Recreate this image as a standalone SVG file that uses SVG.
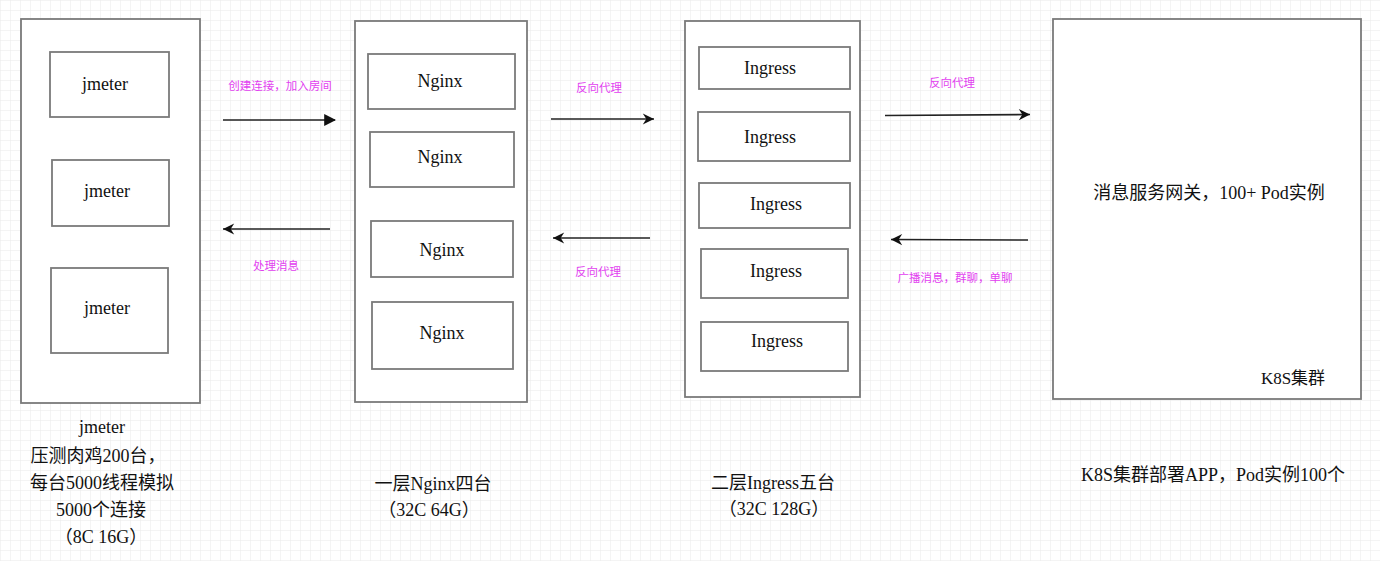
<svg xmlns="http://www.w3.org/2000/svg" width="1400" height="573" viewBox="0 0 1400 573">
<style>
.box{fill:#fff;stroke:#7a7a7a;stroke-width:1.8}
.t{font-family:"Liberation Serif","Noto Sans CJK SC",serif;fill:#111;text-anchor:middle}
.in{font-size:18px}
.big{font-size:18px}
.lab{font-family:"Noto Sans CJK SC","Liberation Sans",sans-serif;font-size:11.5px;fill:#e23ff0;text-anchor:middle}
.ln{stroke:#222;stroke-width:1.6;fill:none}
</style>
<defs>
<pattern id="grid" width="10" height="10" patternUnits="userSpaceOnUse">
<path d="M10 0H0V10" fill="none" stroke="#e9e9e9" stroke-width="1"/>
</pattern>
<marker id="fill" viewBox="0 0 10 10" refX="9" refY="5" markerWidth="12" markerHeight="12" markerUnits="userSpaceOnUse" orient="auto">
<path d="M0 0L10 5L0 10Z" fill="#111"/>
</marker>
<marker id="open" viewBox="0 0 10 10" refX="9" refY="5" markerWidth="14" markerHeight="14" markerUnits="userSpaceOnUse" orient="auto">
<path d="M1 1L9 5L1 9L3.5 5Z" fill="#111"/>
</marker>
</defs>
<rect width="1400" height="573" fill="#fff"/>
<rect x="0" y="0" width="1380" height="561" fill="url(#grid)"/>

<g id="jmeter-group">
<rect class="box" x="21" y="19" width="179" height="384"/>
<g id="jmeter1"><rect class="box" x="50" y="52" width="119" height="65"/><text class="t in" x="105" y="90">jmeter</text></g>
<g id="jmeter2"><rect class="box" x="52" y="160" width="117" height="66"/><text class="t in" x="107" y="197">jmeter</text></g>
<g id="jmeter3"><rect class="box" x="51" y="268" width="117" height="85"/><text class="t in" x="107" y="314">jmeter</text></g>
</g>

<g id="nginx-group">
<rect class="box" x="355" y="21" width="172" height="381"/>
<g id="nginx1"><rect class="box" x="368" y="54" width="147" height="55"/><text class="t in" x="440" y="87">Nginx</text></g>
<g id="nginx2"><rect class="box" x="370" y="132" width="144" height="55"/><text class="t in" x="440" y="163">Nginx</text></g>
<g id="nginx3"><rect class="box" x="371" y="221" width="142" height="56"/><text class="t in" x="442" y="256">Nginx</text></g>
<g id="nginx4"><rect class="box" x="372" y="302" width="141" height="67"/><text class="t in" x="442" y="339">Nginx</text></g>
</g>

<g id="ingress-group">
<rect class="box" x="685" y="21" width="175" height="376"/>
<g id="ingress1"><rect class="box" x="699" y="47" width="151" height="42"/><text class="t in" x="770" y="74">Ingress</text></g>
<g id="ingress2"><rect class="box" x="698" y="112" width="152" height="49"/><text class="t in" x="770" y="143">Ingress</text></g>
<g id="ingress3"><rect class="box" x="699" y="183" width="151" height="45"/><text class="t in" x="776" y="210">Ingress</text></g>
<g id="ingress4"><rect class="box" x="701" y="249" width="147" height="49"/><text class="t in" x="776" y="277">Ingress</text></g>
<g id="ingress5"><rect class="box" x="701" y="322" width="147" height="49"/><text class="t in" x="777" y="347">Ingress</text></g>
</g>

<g id="k8s">
<rect class="box" x="1053" y="19" width="308" height="380"/>
<text class="t" style="font-size:18px" x="1209" y="199">消息服务网关，100+ Pod实例</text>
<text class="t" style="font-size:17px" x="1293" y="384">K8S集群</text>
</g>

<g id="captions">
<text class="t big" x="102" y="433">jmeter</text>
<text class="t big" x="98" y="462">压测肉鸡200台，</text>
<text class="t big" x="102" y="489">每台5000线程模拟</text>
<text class="t big" x="101" y="516">5000个连接</text>
<text class="t big" x="101" y="543">（8C 16G）</text>
<text class="t big" x="433" y="490">一层Nginx四台</text>
<text class="t big" x="429" y="516">（32C 64G）</text>
<text class="t big" x="773" y="489">二层Ingress五台</text>
<text class="t big" x="774" y="515">（32C 128G）</text>
<text class="t big" x="1213" y="481">K8S集群部署APP，Pod实例100个</text>
</g>

<g id="connectors">
<line class="ln" x1="223" y1="120" x2="335" y2="120" marker-end="url(#fill)"/>
<line class="ln" x1="330" y1="229" x2="223" y2="229" marker-end="url(#open)"/>
<line class="ln" x1="551" y1="119" x2="654" y2="119" marker-end="url(#open)"/>
<line class="ln" x1="650" y1="238" x2="553" y2="238" marker-end="url(#open)"/>
<line class="ln" x1="885" y1="115.5" x2="1030" y2="114.5" marker-end="url(#open)"/>
<line class="ln" x1="1028" y1="240" x2="891" y2="239.5" marker-end="url(#open)"/>
<text class="lab" x="280" y="90">创建连接，加入房间</text>
<text class="lab" x="276" y="270">处理消息</text>
<text class="lab" x="599" y="92">反向代理</text>
<text class="lab" x="598" y="276">反向代理</text>
<text class="lab" x="952" y="87">反向代理</text>
<text class="lab" x="955" y="282">广播消息，群聊，单聊</text>
</g>
</svg>
